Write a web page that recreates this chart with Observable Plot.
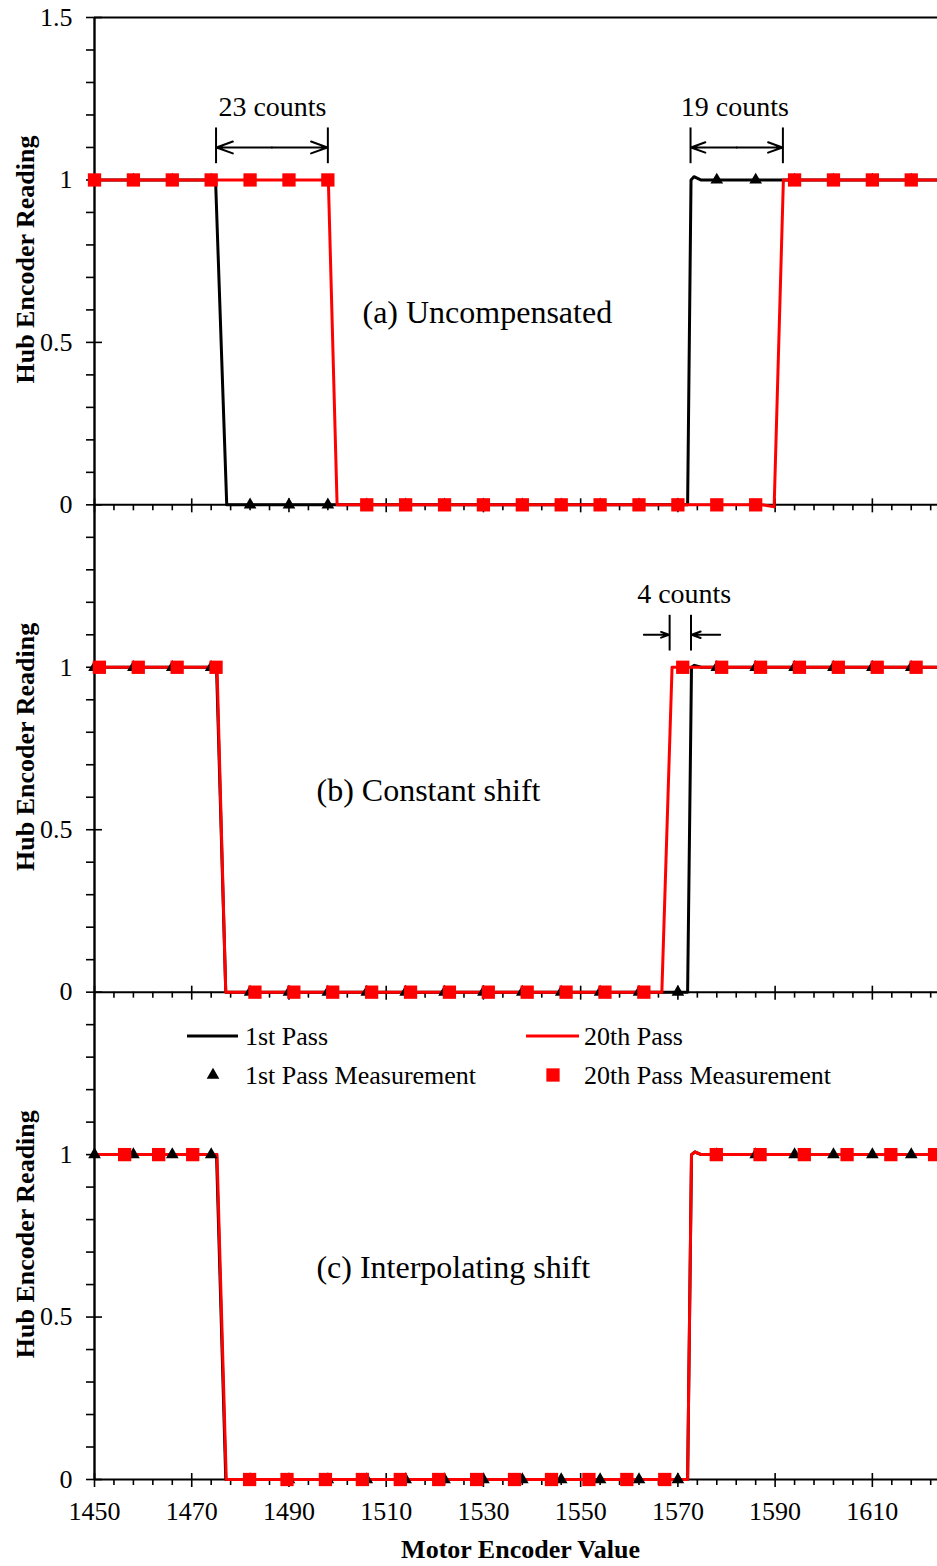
<!DOCTYPE html>
<html><head><meta charset="utf-8">
<script src="https://cdn.jsdelivr.net/npm/d3@7"></script>
<script src="https://cdn.jsdelivr.net/npm/@observablehq/plot@0.6"></script>
<style>
html,body{margin:0;padding:0;background:#fff;overflow:hidden;}
#wrap{position:relative;width:937px;height:1566px;}
</style></head><body><div id="wrap"></div>
<script>
const FONT = '"Liberation Serif","Times New Roman",serif';

// ---- panels ----
const panelIds = ["a", "b", "c"];
const panelOffsets = [3, 1.5, 0];           // stacking offset of each panel on the shared y scale
const panelTitles = ["(a) Uncompensated", "(b) Constant shift", "(c) Interpolating shift"];
const panelTitleX = [1530.8, 1518.7, 1523.8];
const panelTitleY = [0.592, 0.621, 0.652];

// ---- ticks ----
const xTickValues = [1450, 1470, 1490, 1510, 1530, 1550, 1570, 1590, 1610];
const xTickLabels = ["1450", "1470", "1490", "1510", "1530", "1550", "1570", "1590", "1610"];
const yTickValues = [0, 0.5, 1, 1.5, 2, 2.5, 3, 3.5, 4, 4.5];
const yTickLabels = ["0", "0.5", "1", "0", "0.5", "1", "0", "0.5", "1", "1.5"];

// ---- simulated curves: [motor encoder value, hub encoder reading] ----
const pass1CurveA  = [[1450,1],[1474.9,1],[1477.2,0],[1572.0,0],[1572.7,1],[1573.3,1.01],[1574.7,1],[1623.4,1]];
const pass20CurveA = [[1450,1],[1498.1,1],[1499.9,0],[1587.3,0],[1589.8,-0.006],[1591.7,1],[1623.4,1]];
const pass1CurveB  = [[1450,1],[1475.1,1],[1477.0,0],[1572.0,0],[1572.8,1],[1573.4,1.006],[1574.8,1],[1623.4,1]];
const pass20CurveB = [[1450,1],[1475.2,1],[1477.0,0],[1566.7,0],[1568.8,1],[1623.4,1]];
const pass1CurveC  = [[1450,1],[1475.1,1],[1477.0,0],[1572.0,0],[1572.8,1],[1573.5,1.008],[1574.8,1],[1623.4,1]];
const pass20CurveC = [[1450,1],[1475.2,1],[1477.1,0],[1572.0,0],[1572.8,1],[1573.5,1.008],[1574.8,1],[1623.4,1]];

// ---- measurements ----
const pass1MeasX = [1450,1458,1466,1474,1482,1490,1498,1506,1514,1522,1530,1538,1546,1554,1562,1570,1578,1586,1594,1602,1610,1618];
const pass1MeasY = [1,1,1,1,0,0,0,0,0,0,0,0,0,0,0,0,1,1,1,1,1,1];
const pass20MeasXA = [1450,1458,1466,1474,1482,1490,1498,1506,1514,1522,1530,1538,1546,1554,1562,1570,1578,1586,1594,1602,1610,1618];
const pass20MeasYA = [1,1,1,1,1,1,1,0,0,0,0,0,0,0,0,0,0,0,1,1,1,1];
const pass20MeasXB = [1451,1459,1467,1475,1483,1491,1499,1507,1515,1523,1531,1539,1547,1555,1563,1571,1579,1587,1595,1603,1611,1619];
const pass20MeasYB = [1,1,1,1,0,0,0,0,0,0,0,0,0,0,0,1,1,1,1,1,1,1];
const pass20MeasXC = [1456.2,1463.2,1470.2,1481.9,1489.6,1497.5,1505.1,1512.9,1520.8,1528.6,1536.4,1544.0,1551.7,1559.5,1567.3,1577.9,1586.9,1596.0,1604.8,1613.8,1622.8];
const pass20MeasYC = [1,1,1,0,0,0,0,0,0,0,0,0,0,0,0,1,1,1,1,1,1];

// ---- annotations (gap between passes) ----
const gapPanel  = ["a", "a", "b"];
const gapFrom   = [1475, 1572.6, 1568.3];
const gapTo     = [1498, 1591.6, 1572.7];
const gapLabels = ["23 counts", "19 counts", "4 counts"];
const gapLabelX = [1486.6, 1581.7, 1571.3];
const gapInward = [false, false, true];

// ---------------- build tables ----------------
const off = Object.fromEntries(panelIds.map((p, i) => [p, panelOffsets[i]]));
const curveRows = (arr, panel) => arr.map(([x, y]) => ({x, y: y + off[panel], panel}));
const measRows = (xs, ys, panel) => xs.map((x, i) => ({x, y: ys[i] + off[panel], panel}));

const pass1Lines = [...curveRows(pass1CurveA, "a"), ...curveRows(pass1CurveB, "b"), ...curveRows(pass1CurveC, "c")];
const pass20Lines = [...curveRows(pass20CurveA, "a"), ...curveRows(pass20CurveB, "b"), ...curveRows(pass20CurveC, "c")];
const pass1Meas = [...measRows(pass1MeasX, pass1MeasY, "a"), ...measRows(pass1MeasX, pass1MeasY, "b"), ...measRows(pass1MeasX, pass1MeasY, "c")];
const pass20Meas = [...measRows(pass20MeasXA, pass20MeasYA, "a"), ...measRows(pass20MeasXB, pass20MeasYB, "b"), ...measRows(pass20MeasXC, pass20MeasYC, "c")];

const baselines = panelOffsets;                 // x-axis line of each panel
const topLine = [panelOffsets[0] + 1.5];
const xMinor = d3.range(1454, 1624, 4).filter(v => (v - 1450) % 20 !== 0);
const yMinor = panelOffsets.flatMap(o => d3.range(1, 15).filter(k => k % 5 !== 0).map(k => o + k / 10));

const xMajorAt = baselines.flatMap(b => xTickValues.map(x => ({x, b})));
const xMinorAt = baselines.flatMap(b => xMinor.map(x => ({x, b})));

const titles = panelIds.map((p, i) => ({x: panelTitleX[i], y: panelTitleY[i] + panelOffsets[i], text: panelTitles[i]}));
const yTitles = panelIds.map((p, i) => ({y: 0.755 + panelOffsets[i]}));

const BAR_LO = 1.05, BAR_HI = 1.16, ARROW_Y = 1.1, LABEL_Y = 1.225;
const gapBars = gapPanel.flatMap((p, i) => [gapFrom[i], gapTo[i]].map(x => ({x, y1: BAR_LO + off[p], y2: BAR_HI + off[p]})));
const gapArrows = gapPanel.flatMap((p, i) => {
  const y = ARROW_Y + off[p];
  if (gapInward[i]) {
    const w = 5.3;
    return [{x1: gapFrom[i] - w, x2: gapFrom[i] - 0.15, y}, {x1: gapTo[i] + w + 0.7, x2: gapTo[i] + 0.15, y}];
  }
  const m = (gapFrom[i] + gapTo[i]) / 2;
  return [{x1: m, x2: gapFrom[i] + 0.1, y}, {x1: m, x2: gapTo[i] - 0.1, y}];
});
const gapTexts = gapPanel.map((p, i) => ({x: gapLabelX[i], y: LABEL_Y + off[p], text: gapLabels[i]}));

const chart = Plot.plot({
  width: 937, height: 1566,
  marginLeft: 94, marginRight: 0, marginTop: 17, marginBottom: 87,
  x: {domain: [1450, 1623.4]},
  y: {domain: [0, 4.5]},
  style: {fontFamily: FONT, background: "white", color: "black", overflow: "hidden"},
  marks: [
    // axis lines
    Plot.ruleY(baselines, {stroke: "black", strokeWidth: 2}),
    Plot.ruleY(topLine, {stroke: "black", strokeWidth: 2}),
    Plot.ruleX([1450], {stroke: "black", strokeWidth: 2.4}),
    // x ticks on every panel baseline
    Plot.ruleX(xMajorAt, {x: "x", y1: "b", y2: "b", insetTop: 8, insetBottom: 6, stroke: "black", strokeWidth: 1.6}),
    Plot.ruleX(xMinorAt, {x: "x", y1: "b", y2: "b", insetTop: 6, insetBottom: 0, stroke: "black", strokeWidth: 1.6}),
    // y ticks
    Plot.ruleY(yTickValues, {y: d => d, x1: 1450, x2: 1450, insetLeft: -8, insetRight: -8, stroke: "black", strokeWidth: 1.6}),
    Plot.ruleY(yMinor, {y: d => d, x1: 1450, x2: 1450, insetLeft: -8, insetRight: 0, stroke: "black", strokeWidth: 1.6}),
    Plot.axisY({ticks: yTickValues, tickSize: 0, tickPadding: 22, fontSize: 26,
      tickFormat: d => yTickLabels[yTickValues.indexOf(d)], label: null}),
    Plot.axisX({ticks: xTickValues, tickSize: 0, tickPadding: 22, fontSize: 26,
      tickFormat: d => xTickLabels[xTickValues.indexOf(d)], label: null}),
    // data
    Plot.line(pass1Lines, {x: "x", y: "y", z: "panel", stroke: "black", strokeWidth: 3, strokeLinejoin: "round"}),
    Plot.line(pass20Lines, {x: "x", y: "y", z: "panel", stroke: "#ff0000", strokeWidth: 3, strokeLinejoin: "round"}),
    Plot.dot(pass1Meas, {x: "x", y: "y", symbol: "triangle", r: 4.7, fill: "black", stroke: "none"}),
    Plot.dot(pass20Meas, {x: "x", y: "y", symbol: "square", r: 7.5, fill: "#ff0000", stroke: "none"}),
    // annotations
    Plot.ruleX(gapBars, {x: "x", y1: "y1", y2: "y2", stroke: "black", strokeWidth: 2}),
    Plot.arrow(gapArrows, {x1: "x1", x2: "x2", y1: "y", y2: "y", headLength: 13, headAngle: 40, stroke: "black", strokeWidth: 2}),
    Plot.text(gapTexts, {x: "x", y: "y", text: "text", fontSize: 28, fill: "black"}),
    Plot.text(titles, {x: "x", y: "y", text: "text", fontSize: 32, fill: "black"}),
    Plot.text(yTitles, {y: "y", text: () => "Hub Encoder Reading", frameAnchor: "left", textAnchor: "middle",
      lineAnchor: "middle", dx: -69, rotate: -90, fontSize: 26, fontWeight: "bold", fill: "black"}),
    Plot.text(["Motor Encoder Value"], {frameAnchor: "bottom", lineAnchor: "middle", dx: 4.5, dy: 70,
      fontSize: 26, fontWeight: "bold", fill: "black"})
  ]
});
document.getElementById("wrap").appendChild(chart);

// ---- legend (inside panel c) ----
const svg = d3.select(chart);
const lg = svg.append("g").attr("font-family", FONT).attr("font-size", 26).attr("fill", "black")
  .attr("text-anchor", "start");
const legendItems = [
  {kind: "line", color: "black", x: 187, x2: 238, y: 1036, tx: 245, text: "1st Pass"},
  {kind: "tri", color: "black", x: 213, y: 1075, tx: 245, text: "1st Pass Measurement"},
  {kind: "line", color: "#ff0000", x: 526, x2: 579, y: 1036, tx: 584, text: "20th Pass"},
  {kind: "sq", color: "#ff0000", x: 553, y: 1075, tx: 584, text: "20th Pass Measurement"}
];
for (const it of legendItems) {
  if (it.kind === "line") {
    lg.append("line").attr("x1", it.x).attr("x2", it.x2).attr("y1", it.y).attr("y2", it.y)
      .attr("stroke", it.color).attr("stroke-width", 3);
  } else {
    const sym = it.kind === "tri" ? d3.symbolTriangle : d3.symbolSquare;
    const r = it.kind === "tri" ? 4.7 : 7.5;
    lg.append("path").attr("d", d3.symbol(sym, Math.PI * r * r)()).attr("transform", `translate(${it.x},${it.y})`)
      .attr("fill", it.color);
  }
  lg.append("text").attr("x", it.tx).attr("y", it.y).attr("dy", "0.35em").attr("text-anchor", "start").text(it.text);
}
</script></body></html>
